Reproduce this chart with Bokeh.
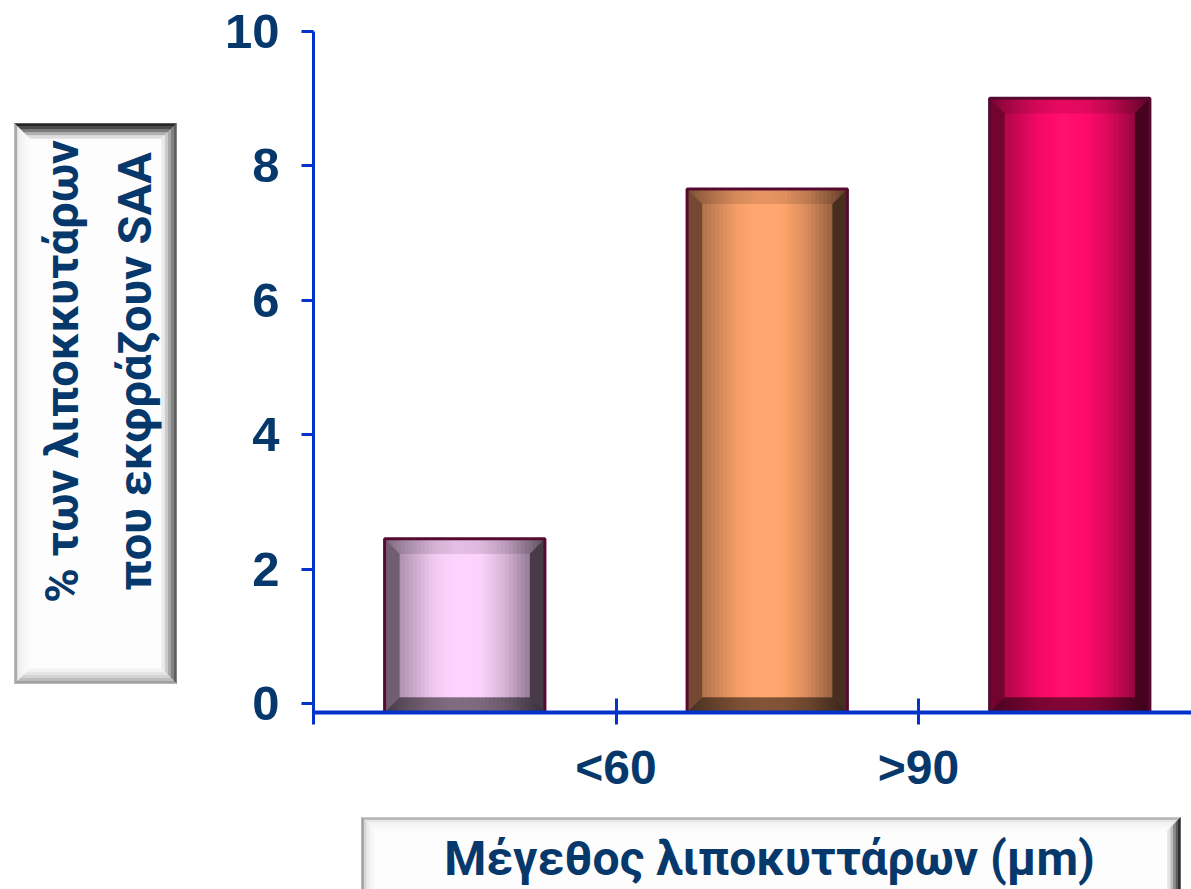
import math
from bokeh.plotting import figure
from bokeh.layouts import column, row
from bokeh.models import Range1d, FixedTicker, ColumnDataSource
from bokeh.core.properties import value
from bokeh.embed import file_html
from bokeh.resources import INLINE

# --- data -------------------------------------------------------------
bar_values = [2.45, 7.65, 9.0]
bar_colors = ["#fcd2fc", "#ffa46c", "#ff0a6a"]
tick_labels = ["<60", ">90"]
y_ticks = [0, 2, 4, 6, 8, 10]
y_title = ["% των λιποκκυτάρων", "που εκφράζουν SAA"]
x_title = ["Μέγεθος λιποκυττάρων (μm)"]

# --- layout constants ---------------------------------------------------
W, H = 1191, 889
SIDE_W = 200
MAIN_H = 800
LEFT, TOP, BOTTOM = 313, 20, 88
X_PX = 302.5          # pixels per category
Y_PX = 67.25          # pixels per y unit
frame_w = W - LEFT
frame_h = MAIN_H - TOP - BOTTOM
y0 = -9 / Y_PX
x_end = frame_w / X_PX
y_end = y0 + frame_h / Y_PX

NAVY = "#07386b"
BLUE = "#0433cc"
BORDER = "#560a30"
TICK_FONT = "Liberation Sans"
TITLE_FONT = "Roboto"

p = figure(width=W - SIDE_W, height=MAIN_H, output_backend="svg",
           toolbar_location=None,
           x_range=Range1d(0, x_end), y_range=Range1d(y0, y_end),
           min_border_left=LEFT - SIDE_W, min_border_right=0,
           min_border_top=TOP, min_border_bottom=BOTTOM)
p.outline_line_color = None
p.grid.visible = False
p.background_fill_color = "white"
p.border_fill_color = "white"

# y axis
ya = p.yaxis[0]
ya.bounds = (0, 10)
ya.ticker = FixedTicker(ticks=y_ticks)
ya.axis_line_color = BLUE
ya.axis_line_width = 3
ya.major_tick_line_color = BLUE
ya.major_tick_line_width = 3
ya.major_tick_in = 0
ya.major_tick_out = 12
ya.minor_tick_line_color = None
ya.major_label_text_font = TICK_FONT
ya.major_label_text_font_style = "bold"
ya.major_label_text_font_size = "49px"
ya.major_label_text_color = NAVY
ya.major_label_standoff = 22

# x axis: ticks sit on the boundaries between the bars
xa = p.xaxis[0]
boundaries = [0] + [i + 1 for i in range(len(tick_labels))]
xa.ticker = FixedTicker(ticks=boundaries)
xa.major_label_overrides = {0: ""} | {i + 1: t for i, t in enumerate(tick_labels)}
xa.axis_line_color = BLUE
xa.axis_line_width = 4
xa.major_tick_line_color = BLUE
xa.major_tick_line_width = 3
xa.major_tick_in = 14
xa.major_tick_out = 12
xa.minor_tick_line_color = None
xa.major_label_text_font = TICK_FONT
xa.major_label_text_font_style = "bold"
xa.major_label_text_font_size = "48px"
xa.major_label_text_color = NAVY
xa.major_label_standoff = 16


# --- bevelled bars -------------------------------------------------------
def shade(hexcol, f):
    r, g, b = (int(hexcol[i:i + 2], 16) for i in (1, 3, 5))
    if f <= 1:
        r, g, b = r * f, g * f, b * f
    else:
        k = f - 1
        r, g, b = r + (255 - r) * k, g + (255 - g) * k, b + (255 - b) * k
    return "#%02x%02x%02x" % (int(round(r)), int(round(g)), int(round(b)))


profile = [(0.0, 0.55), (0.1, 0.7), (0.3, 0.95), (0.45, 1.03), (0.6, 1.0),
           (0.75, 0.85), (0.9, 0.6), (1.0, 0.42)]


def bright(t):
    for (t0, f0), (t1, f1) in zip(profile, profile[1:]):
        if t <= t1:
            return f0 + (f1 - f0) * (t - t0) / (t1 - t0)
    return profile[-1][1]


BAR_W = 0.53
BX = 15 / X_PX
BY = 15 / Y_PX
N = 40

face = dict(l=[], r=[], b=[], t=[], c=[])
bev_top = dict(l=[], r=[], b=[], t=[], c=[])
bev_bot = dict(l=[], r=[], b=[], t=[], c=[])
sides = dict(xs=[], ys=[], c=[])
outline = dict(l=[], r=[], b=[], t=[])

for i, (v, col) in enumerate(zip(bar_values, bar_colors)):
    xc = i + 0.5
    x0, x1 = xc - BAR_W / 2, xc + BAR_W / 2
    dw = (x1 - x0) / N
    for k in range(N):
        f = bright((k + 0.5) / N)
        l = x0 + k * dw
        r = min(x1, l + dw * 1.8)   # overlap hides seams between strips
        face["l"].append(l); face["r"].append(r)
        face["b"].append(y0); face["t"].append(v); face["c"].append(shade(col, f))
        bev_top["l"].append(l); bev_top["r"].append(r)
        bev_top["b"].append(v - BY); bev_top["t"].append(v)
        bev_top["c"].append(shade(col, f * 0.88))
        bev_bot["l"].append(l); bev_bot["r"].append(r)
        bev_bot["b"].append(y0); bev_bot["t"].append(y0 + BY)
        bev_bot["c"].append(shade(col, f * 0.5))
    sides["xs"].append([x0, x0 + BX, x0 + BX, x0])
    sides["ys"].append([y0, y0 + BY, v - BY, v])
    sides["c"].append(shade(col, 0.45))
    sides["xs"].append([x1, x1 - BX, x1 - BX, x1])
    sides["ys"].append([y0, y0 + BY, v - BY, v])
    sides["c"].append(shade(col, 0.28))
    outline["l"].append(x0); outline["r"].append(x1)
    outline["b"].append(y0); outline["t"].append(v)

for d in (face, bev_top, bev_bot):
    p.quad(left="l", right="r", bottom="b", top="t", fill_color="c",
           line_color=None, source=ColumnDataSource(d))
p.patches(xs="xs", ys="ys", fill_color="c", line_color=None,
          source=ColumnDataSource(sides))
p.quad(left="l", right="r", bottom="b", top="t", fill_color=None,
       line_color=BORDER, line_width=3, source=ColumnDataSource(outline))


# --- bevelled title panels (pixel coordinates, y measured upwards) ---------
def panel(width, height, top=0, bottom=0):
    # the frame covers canvas rows top..height-bottom; ranges keep 1 unit = 1 px
    f = figure(width=width, height=height, output_backend="svg",
               toolbar_location=None, x_axis_type=None, y_axis_type=None,
               x_range=Range1d(0, width), y_range=Range1d(bottom, height - top),
               min_border=0, min_border_top=top, min_border_bottom=bottom)
    f.outline_line_color = None
    f.grid.visible = False
    f.background_fill_color = "white"
    f.border_fill_color = "white"
    return f


def bevel_box(f, x0, yb, x1, yt, bev, shades):
    # shades: outer-to-inner colours for top, right, bottom, left
    f.quad(left=[x0], right=[x1], bottom=[yb], top=[yt], fill_color="#fdfdfd",
           line_color=None)
    xs, ys, cs = [], [], []
    n = len(shades[0])
    for k in range(n):
        a, b = bev * k / n, bev * (k + 1) / n
        top = ([x0 + a, x1 - a, x1 - b, x0 + b], [yt - a, yt - a, yt - b, yt - b])
        right = ([x1 - a, x1 - a, x1 - b, x1 - b], [yt - a, yb + a, yb + b, yt - b])
        bot = ([x0 + a, x1 - a, x1 - b, x0 + b], [yb + a, yb + a, yb + b, yb + b])
        left = ([x0 + a, x0 + a, x0 + b, x0 + b], [yt - a, yb + a, yb + b, yt - b])
        for (px, py), sh in zip((top, right, bot, left), shades):
            xs.append(px); ys.append(py); cs.append(sh[k])
    f.patches(xs=xs, ys=ys, fill_color=cs, line_color=cs, line_width=0.5)


side = panel(SIDE_W, MAIN_H, TOP, BOTTOM)
bevel_box(side, 14, MAIN_H - 683, 176, MAIN_H - 123, 15, [
    ["#262626", "#4a4a4a", "#7a7a7a", "#b0b0b0", "#dedede"],
    ["#5e5e5e", "#828282", "#a8a8a8", "#cccccc", "#ebebeb"],
    ["#a0a0a0", "#bdbdbd", "#d4d4d4", "#e6e6e6", "#f3f3f3"],
    ["#a8a8a8", "#ececec", "#f3f3f3", "#f7f7f7", "#fafafa"],
])
side.text(x=[61, 134], y=[MAIN_H - 371] * 2, text=y_title, angle=math.pi / 2,
          text_align="center", text_baseline="middle",
          text_font=value(TITLE_FONT), text_font_style="bold",
          text_font_size="47px", text_color=NAVY)

BOT_H = H - MAIN_H
bottom = panel(W, BOT_H)
bevel_box(bottom, 361, -20, 1180, BOT_H - 17, 13, [
    ["#b4b4b4", "#e6e6e6", "#f3f3f3", "#f7f7f7", "#fafafa"],
    ["#2c2c2c", "#5a5a5a", "#8c8c8c", "#bebebe", "#e4e4e4"],
    ["#6c6c6c", "#9c9c9c", "#c4c4c4", "#dedede", "#efefef"],
    ["#a0a0a0", "#d6d6d6", "#eaeaea", "#f3f3f3", "#f8f8f8"],
])
bottom.text(x=[769], y=[BOT_H - 58], text=x_title, text_align="center",
            text_baseline="middle", text_font=value(TITLE_FONT),
            text_font_style="bold", text_font_size="48px", text_color=NAVY)

layout = column(row(side, p, spacing=0), bottom, spacing=0)
open("out.html", "w").write(file_html(layout, INLINE))
